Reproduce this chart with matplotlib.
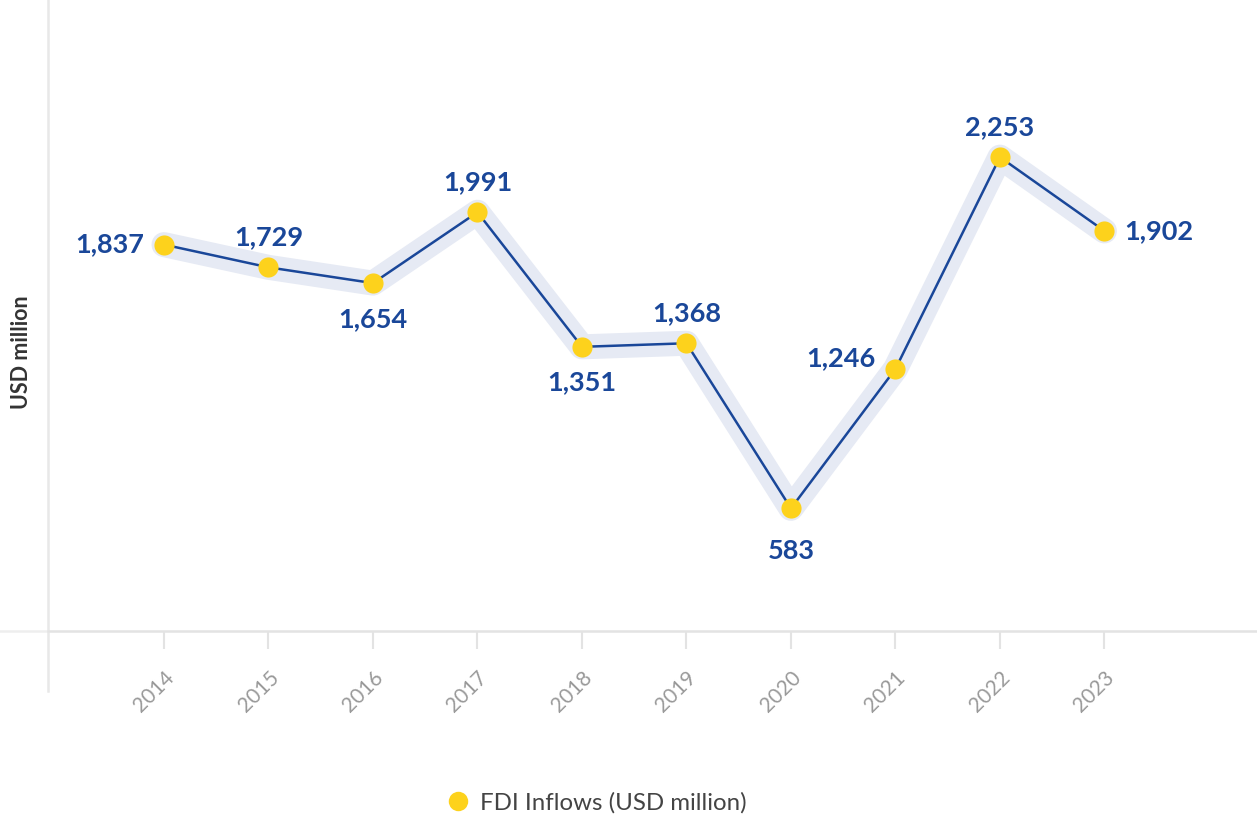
import matplotlib
matplotlib.use('Agg')
import matplotlib.pyplot as plt
from matplotlib.lines import Line2D

plt.rcParams['font.family'] = ['Lato', 'DejaVu Sans']

years = [2014, 2015, 2016, 2017, 2018, 2019, 2020, 2021, 2022, 2023]
fdi = [1837, 1729, 1654, 1991, 1351, 1368, 583, 1246, 2253, 1902]
# where each value label sits relative to its point
label_pos = ['left', 'above', 'below', 'above', 'below', 'above', 'below', 'left', 'above', 'right']

BLUE = '#1a4799'
YELLOW = '#fdd21c'
HALO = '#e6eaf4'
GRID = '#e3e3e3'

fig = plt.figure(figsize=(12.57, 8.17), dpi=100)
ax = fig.add_axes([48/1257, 186/817, 1 - 48/1257, 631/817])

ax.plot(years, fdi, color=HALO, lw=18, solid_joinstyle='round', solid_capstyle='round', zorder=1)
ax.plot(years, fdi, color=BLUE, lw=1.8, zorder=2)
ax.plot(years, fdi, 'o', color=YELLOW, ms=14.5, mec='none', zorder=3)

for x, y, pos in zip(years, fdi, label_pos):
    txt = f'{y:,}'
    if pos == 'above':
        off, ha, va = (0, 13), 'center', 'bottom'
    elif pos == 'below':
        off, ha, va = (0, -17), 'center', 'top'
    elif pos == 'left':
        off, ha, va = (-14, 0), 'right', 'center'
    else:
        off, ha, va = (14, 0), 'left', 'center'
    if x == 2020:
        off = (0, -22)
    if x == 2021:
        off = (-14, 8)
    ax.annotate(txt, (x, y), xytext=off, textcoords='offset points', ha=ha, va=va,
                fontsize=19.5, fontweight='bold', color=BLUE)

ax.set_xlim(2012.89, 2024.46)
ax.set_ylim(0, 3000)
ax.set_yticks([])
ax.set_xticks(years)
ax.set_xticklabels([str(y) for y in years], rotation=45, ha='right', va='top',
                   rotation_mode='anchor', fontsize=15, color='#9a9a9a')
ax.tick_params(axis='x', length=13, width=1.5, color=GRID, pad=13)

for s in ['top', 'right']:
    ax.spines[s].set_visible(False)
ax.spines['bottom'].set_color(GRID)
ax.spines['bottom'].set_linewidth(1.8)
ax.spines['left'].set_visible(False)
# axis lines run a bit past the plot area
ax.plot([0, 0], [-0.095, 1], transform=ax.transAxes, color='#e8e8e8', lw=1.8, clip_on=False)
ax.plot([-0.04, 0], [0, 0], transform=ax.transAxes, color='#eeeeee', lw=1.8, clip_on=False)

fig.text(22/1257, 1 - 352/817, 'USD million', rotation=90, ha='center', va='center',
         fontsize=15.5, fontweight='bold', color='#333333')

handle = Line2D([], [], marker='o', color=YELLOW, ls='none', ms=14, mec='none')
fig.legend([handle], ['FDI Inflows (USD million)'], loc='center left',
           bbox_to_anchor=(446/1257, 1 - 803/817), borderaxespad=0, borderpad=0,
           frameon=False, fontsize=17.3, labelcolor='#444444',
           handlelength=1.0, handletextpad=0.4)

fig.savefig('out.png', dpi=100)
